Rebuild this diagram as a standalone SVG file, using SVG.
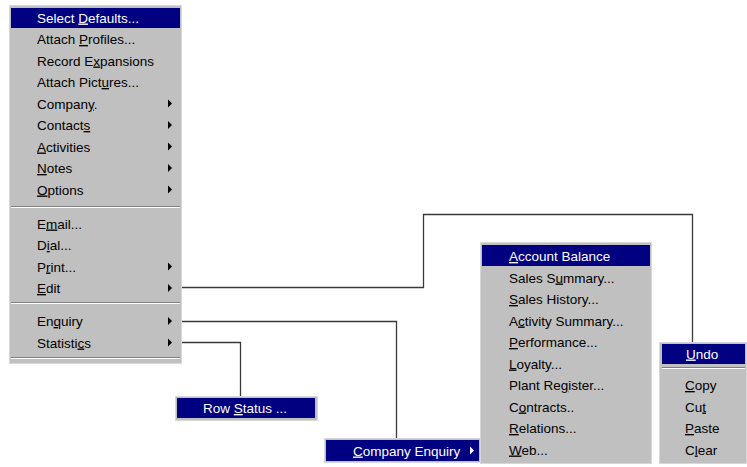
<svg xmlns="http://www.w3.org/2000/svg" width="747" height="467" viewBox="0 0 747 467">
<style>
.menu{fill:#c0c0c0;stroke:#d8d8d8;stroke-width:1}
.hl{fill:#000080}
.t{font-family:"Liberation Sans",Arial,sans-serif;font-size:13.5px;fill:#000}
.w{fill:#fff}
.u{text-decoration:underline}
.sepd{stroke:#808080;stroke-width:1}
.sepl{stroke:#ffffff;stroke-width:1}
.arr{fill:#000}
.conn{fill:none;stroke:#3a3a3a;stroke-width:1.3}
</style>
<rect width="747" height="467" fill="#fff"/>
<g id="main-menu">
<rect class="menu" x="9.5" y="5.5" width="172" height="358"/>
<rect class="hl" x="11" y="8" width="169" height="20"/>
<text class="t w" x="37" y="22.5">Select <tspan class="u">D</tspan>efaults...</text>
<text class="t" x="37" y="44">Attach <tspan class="u">P</tspan>rofiles...</text>
<text class="t" x="37" y="65.5">Record E<tspan class="u">x</tspan>pansions</text>
<text class="t" x="37" y="87">Attach Pict<tspan class="u">u</tspan>res...</text>
<text class="t" x="37" y="108.5">Compan<tspan class="u">y</tspan>.</text>
<text class="t" x="37" y="130">Contact<tspan class="u">s</tspan></text>
<text class="t" x="37" y="151.5"><tspan class="u">A</tspan>ctivities</text>
<text class="t" x="37" y="173"><tspan class="u">N</tspan>otes</text>
<text class="t" x="37" y="194.5"><tspan class="u">O</tspan>ptions</text>
<path class="arr" d="M168,99.5 L172,103.5 L168,107.5Z M168,121 L172,125 L168,129Z M168,142.5 L172,146.5 L168,150.5Z M168,164 L172,168 L168,172Z M168,185.5 L172,189.5 L168,193.5Z"/>
<line class="sepd" x1="11" y1="206.5" x2="180" y2="206.5"/>
<line class="sepl" x1="11" y1="207.5" x2="180" y2="207.5"/>
<text class="t" x="37" y="228.5">E<tspan class="u">m</tspan>ail...</text>
<text class="t" x="37" y="250">D<tspan class="u">i</tspan>al...</text>
<text class="t" x="37" y="271.5">P<tspan class="u">r</tspan>int...</text>
<text class="t" x="37" y="293"><tspan class="u">E</tspan>dit</text>
<path class="arr" d="M168,262.5 L172,266.5 L168,270.5Z M168,284 L172,288 L168,292Z"/>
<line class="sepd" x1="11" y1="302.5" x2="180" y2="302.5"/>
<line class="sepl" x1="11" y1="303.5" x2="180" y2="303.5"/>
<text class="t" x="37" y="326">En<tspan class="u">q</tspan>uiry</text>
<text class="t" x="37" y="347.5">Statisti<tspan class="u">c</tspan>s</text>
<path class="arr" d="M168,317 L172,321 L168,325Z M168,338.5 L172,342.5 L168,346.5Z"/>
<line class="sepd" x1="11" y1="357.5" x2="180" y2="357.5"/>
<line class="sepl" x1="11" y1="358.5" x2="180" y2="358.5"/>
</g>
<g id="row-status">
<rect class="menu" x="175.5" y="396.5" width="142" height="24"/>
<rect class="hl" x="177" y="398" width="138" height="20"/>
<text class="t w" x="203" y="413">Row <tspan class="u">S</tspan>tatus ...</text>
</g>
<g id="company-enquiry">
<rect class="menu" x="324.5" y="438.5" width="157" height="24"/>
<rect class="hl" x="326" y="440" width="153" height="21"/>
<text class="t w" x="353" y="455.5"><tspan class="u">C</tspan>ompany Enquiry</text>
<path d="M470,446.5 L474,450.5 L470,454.5Z" fill="#fff"/>
</g>
<g id="enquiry-menu">
<rect class="menu" x="480.5" y="242.5" width="171" height="221"/>
<rect class="hl" x="482" y="245" width="168" height="21"/>
<text class="t w" x="509" y="261"><tspan class="u">A</tspan>ccount Balance</text>
<text class="t" x="509" y="282.5">Sales S<tspan class="u">u</tspan>mmary...</text>
<text class="t" x="509" y="304"><tspan class="u">S</tspan>ales History...</text>
<text class="t" x="509" y="325.5">A<tspan class="u">c</tspan>tivity Summary...</text>
<text class="t" x="509" y="347"><tspan class="u">P</tspan>erformance...</text>
<text class="t" x="509" y="368.5"><tspan class="u">L</tspan>oyalty...</text>
<text class="t" x="509" y="390">Plant Re<tspan class="u">g</tspan>ister...</text>
<text class="t" x="509" y="411.5">C<tspan class="u">o</tspan>ntracts..</text>
<text class="t" x="509" y="433"><tspan class="u">R</tspan>elations...</text>
<text class="t" x="509" y="454.5"><tspan class="u">W</tspan>eb...</text>
</g>
<g id="edit-menu">
<rect class="menu" x="659.5" y="342.5" width="87" height="121"/>
<rect class="hl" x="662" y="344" width="83" height="20"/>
<text class="t w" x="686" y="358.5"><tspan class="u">U</tspan>ndo</text>
<line class="sepd" x1="662" y1="367.5" x2="745" y2="367.5"/>
<line class="sepl" x1="662" y1="368.5" x2="745" y2="368.5"/>
<text class="t" x="685" y="390"><tspan class="u">C</tspan>opy</text>
<text class="t" x="685" y="411.5">Cu<tspan class="u">t</tspan></text>
<text class="t" x="685" y="433"><tspan class="u">P</tspan>aste</text>
<text class="t" x="685" y="454.5">C<tspan class="u">l</tspan>ear</text>
</g>
<g id="connectors">
<path class="conn" d="M182,287.5 H423.5 V214.5 H692.5 V342"/>
<path class="conn" d="M182,321.5 H396.5 V438"/>
<path class="conn" d="M182,342.5 H240.5 V396"/>
</g>
</svg>
